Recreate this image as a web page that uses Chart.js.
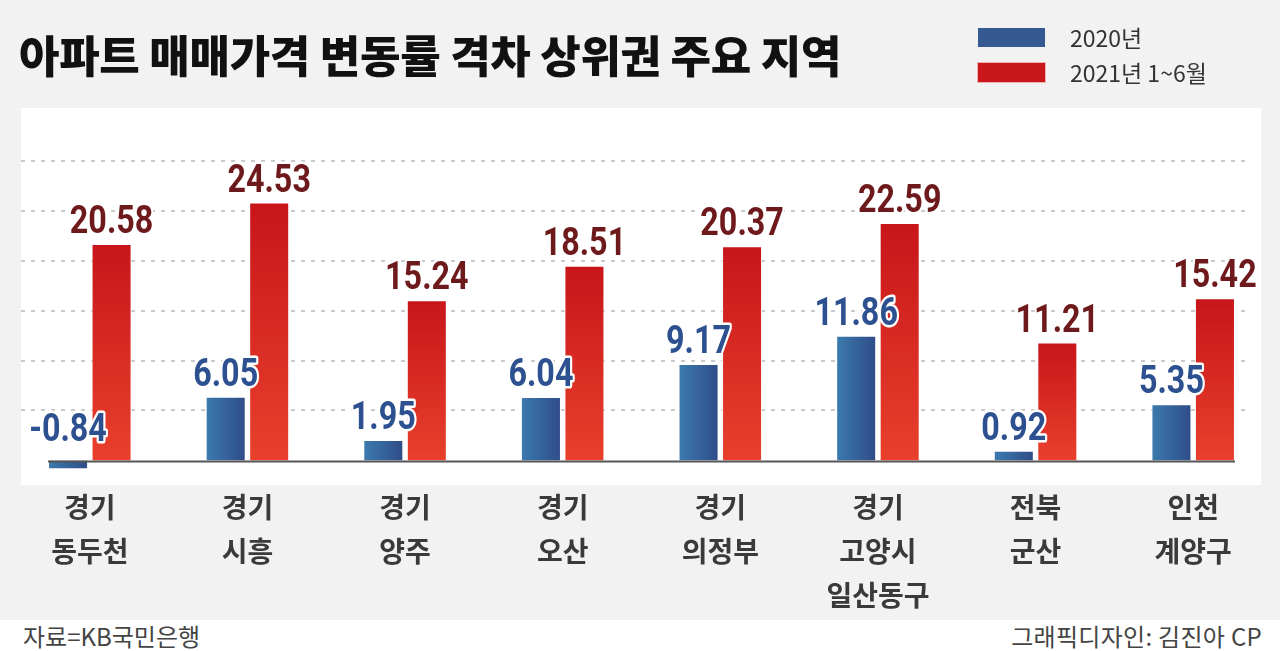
<!DOCTYPE html>
<html>
<head>
<meta charset="utf-8">
<script src="https://cdn.jsdelivr.net/npm/chart.js@4/dist/chart.umd.min.js"></script>
<style>
    html, body { margin: 0; padding: 0; }
    body { width: 1280px; height: 651px; background: #f3f2f3; position: relative; overflow: hidden;
           font-family: "Noto Sans CJK KR", "Noto Sans", sans-serif; }
    #chart { position: absolute; left: 0; top: 0; }
    .title { position: absolute; left: 19px; top: 26px; font-size: 44px; font-weight: 900; color: #111;
             letter-spacing: -0.3px; line-height: 56px; white-space: nowrap; }
    .legend { position: absolute; left: 978px; top: 26px; }
    .legend div { position: relative; height: 35px; font-size: 23px; color: #333; line-height: 24px; white-space: nowrap; }
    .legend span { position: absolute; left: 0; top: 2px; width: 67px; height: 19px; }
    .legend em { font-style: normal; position: absolute; left: 92px; top: -1px; }
    .footer { position: absolute; left: 0; top: 620px; width: 1280px; height: 31px; background: #fff; }
    .footer p { position: absolute; margin: 0; top: 1px; font-size: 24px; color: #444; line-height: 30px; white-space: nowrap; }
</style>
</head>
<body>
<div class="footer">
    <p style="left: 23px;">자료=KB국민은행</p>
    <p style="right: 18px; letter-spacing: 0.3px;">그래픽디자인: 김진아 CP</p>
</div>
<canvas id="chart" width="1280" height="651"></canvas>
<div class="title">아파트 매매가격 변동률 격차 상위권 주요 지역</div>
<div class="legend">
    <div><span style="background:#355a92;"></span><em>2020년</em></div>
    <div><span style="background:#c8161a; box-shadow: 0 0 0 1px #f0b0b0;"></span><em>2021년 1~6월</em></div>
</div>
<script>
const categories = [
    ['경기', '동두천'],
    ['경기', '시흥'],
    ['경기', '양주'],
    ['경기', '오산'],
    ['경기', '의정부'],
    ['경기', '고양시', '일산동구'],
    ['전북', '군산'],
    ['인천', '계양구'],
];
const seriesNames = ['2020년', '2021년 1~6월'];
const values2020 = [-0.84, 6.05, 1.95, 6.04, 9.17, 11.86, 0.92, 5.35];
const values2021 = [20.58, 24.53, 15.24, 18.51, 20.37, 22.59, 11.21, 15.42];

const labelColors = ['#2d5190', '#6e1a1c'];

// white panel behind the plot, dashed guides, bar gradients, baseline and value labels
const decoPlugin = {
    id: 'deco',
    beforeDraw(chart) {
        const ctx = chart.ctx;
        const a = chart.chartArea;
        ctx.save();
        ctx.fillStyle = '#ffffff';
        ctx.fillRect(a.left + 10, a.top, a.right - a.left - 21, a.bottom - a.top);
        ctx.restore();
    },
    beforeDatasetsDraw(chart) {
        const ctx = chart.ctx;
        const a = chart.chartArea;
        const y = chart.scales.y;
        ctx.save();
        ctx.strokeStyle = '#c9c9c9';
        ctx.lineWidth = 2;
        ctx.setLineDash([4, 6]);
        y.ticks.forEach(t => {
            if (t.value <= 0 || t.value > 30) return;
            const py = Math.round(y.getPixelForValue(t.value));
            ctx.beginPath();
            ctx.moveTo(a.left + 10, py);
            ctx.lineTo(a.right - 22, py);
            ctx.stroke();
        });
        ctx.restore();

        // per-bar gradients (options are per element because the colours are scriptable)
        chart.getDatasetMeta(0).data.forEach(bar => {
            const g = ctx.createLinearGradient(bar.x - bar.width / 2, 0, bar.x + bar.width / 2, 0);
            g.addColorStop(0, '#3b7bae');
            g.addColorStop(1, '#2f4c88');
            bar.options = Object.assign({}, bar.options, { backgroundColor: g });
        });
        chart.getDatasetMeta(1).data.forEach(bar => {
            const g = ctx.createLinearGradient(0, bar.y, 0, bar.base);
            g.addColorStop(0, '#c8151a');
            g.addColorStop(1, '#e8402c');
            bar.options = Object.assign({}, bar.options, { backgroundColor: g });
        });
    },
    afterDatasetsDraw(chart) {
        const ctx = chart.ctx;
        const y = chart.scales.y;
        const first = chart.getDatasetMeta(0).data[0];
        const last = chart.getDatasetMeta(1).data[values2021.length - 1];
        const zero = y.getPixelForValue(0) + 1;

        ctx.save();
        ctx.strokeStyle = '#555555';
        ctx.lineWidth = 2;
        ctx.beginPath();
        ctx.moveTo(first.x - first.width / 2, zero);
        ctx.lineTo(last.x + last.width / 2, zero);
        ctx.stroke();

        ctx.font = 'bold 38px Roboto';
        ctx.textAlign = 'center';
        ctx.textBaseline = 'alphabetic';
        ctx.lineJoin = 'round';
        chart.data.datasets.forEach((ds, di) => {
            chart.getDatasetMeta(di).data.forEach((bar, i) => {
                const v = ds.data[i];
                const top = Math.min(bar.y, bar.base);
                const ty = (v < 0 ? zero - 20 : top - 11);
                ctx.save();
                ctx.translate(bar.x, ty);
                ctx.scale(0.85, 1);
                ctx.strokeStyle = '#ffffff';
                ctx.lineWidth = 5;
                ctx.strokeText(v.toFixed(2), 0, 0);
                ctx.fillStyle = labelColors[di];
                ctx.fillText(v.toFixed(2), 0, 0);
                ctx.restore();
            });
        });
        ctx.restore();
    }
};

new Chart(document.getElementById('chart'), {
    type: 'bar',
    data: {
        labels: categories,
        datasets: [
            {
                label: seriesNames[0],
                data: values2020,
                backgroundColor: () => '#355a92',
                borderColor: '#ffffff',
                borderWidth: 1,
                barPercentage: 0.92,
                categoryPercentage: 0.552,
            },
            {
                label: seriesNames[1],
                data: values2021,
                backgroundColor: () => '#c8161a',
                borderColor: '#ffffff',
                borderWidth: 1,
                barPercentage: 0.92,
                categoryPercentage: 0.552,
            },
        ],
    },
    options: {
        responsive: false,
        animation: false,
        devicePixelRatio: 1,
        layout: {
            padding: { left: 11, right: 8, top: 108, bottom: 42 },
        },
        plugins: {
            legend: { display: false },
            tooltip: { enabled: false },
        },
        scales: {
            x: {
                grid: { display: false },
                border: { display: false },
                ticks: {
                    color: '#3a3a3a',
                    padding: -8,
                    maxRotation: 0,
                    minRotation: 0,
                    autoSkip: false,
                    font: { family: '"Noto Sans CJK KR"', size: 28, weight: 'bold', lineHeight: 1.57 },
                },
            },
            y: {
                display: false,
                min: -2.35,
                max: 33.53,
                ticks: { stepSize: 4.75 },
            },
        },
    },
    plugins: [decoPlugin],
});
</script>
</body>
</html>
